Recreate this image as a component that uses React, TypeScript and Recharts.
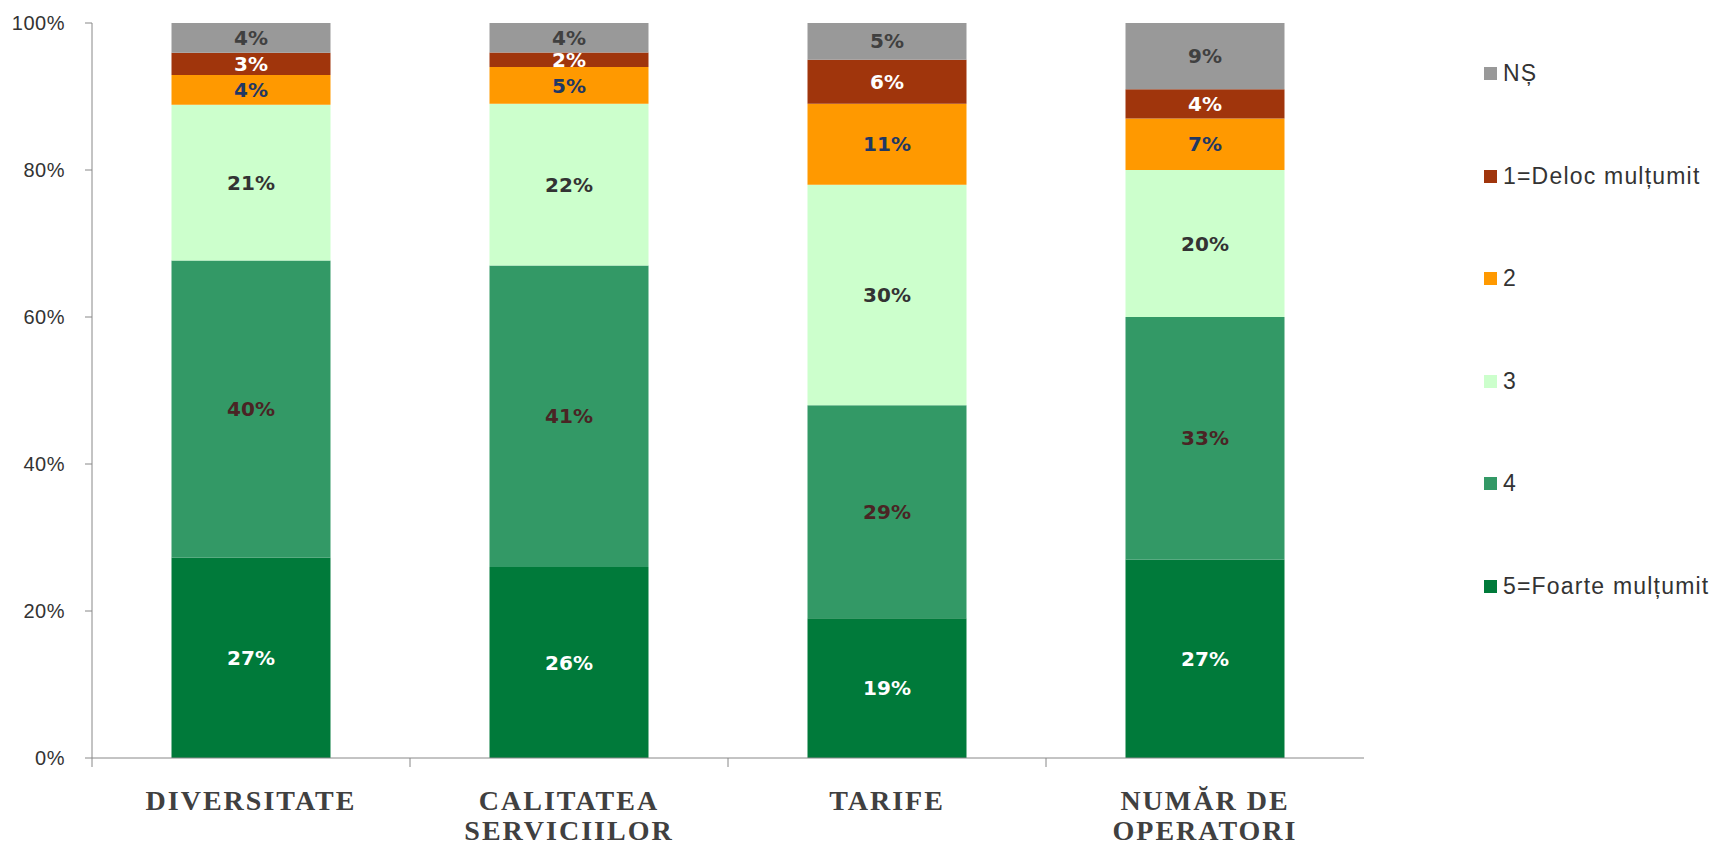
import React from "react";
import {
  BarChart,
  Bar,
  XAxis,
  YAxis,
  Legend,
  LabelList,
} from "recharts";

const categories = [
  "DIVERSITATE",
  "CALITATEA SERVICIILOR",
  "TARIFE",
  "NUMĂR DE OPERATORI",
];

// valori in procente, pe categorie
const foarteMultumit = [27, 26, 19, 27];
const nota4 = [40, 41, 29, 33];
const nota3 = [21, 22, 30, 20];
const nota2 = [4, 5, 11, 7];
const delocMultumit = [3, 2, 6, 4];
const ns = [4, 4, 5, 9];

const yTicks = [0, 0.2, 0.4, 0.6, 0.8, 1];

const series = [
  { key: "s5", name: "5=Foarte mulțumit", values: foarteMultumit, color: "#007a3a", label: "#ffffff" },
  { key: "s4", name: "4", values: nota4, color: "#339966", label: "#4a2424" },
  { key: "s3", name: "3", values: nota3, color: "#ccffcc", label: "#333333" },
  { key: "s2", name: "2", values: nota2, color: "#ff9900", label: "#1f3864" },
  { key: "s1", name: "1=Deloc mulțumit", values: delocMultumit, color: "#a0350c", label: "#ffffff" },
  { key: "sns", name: "NȘ", values: ns, color: "#999999", label: "#404040" },
];

const data = categories.map((name, i) => {
  const row: any = { name };
  series.forEach((s) => {
    row[s.key] = s.values[i];
  });
  return row;
});

const CHART_W = 1718;
const CHART_H = 845;
const MARGIN = { top: 23, right: 354, bottom: 0, left: 0 };
const Y_W = 92;
const BAND = (CHART_W - MARGIN.right - Y_W) / categories.length;

// eticheta pe axa X: ultimul cuvant pe randul doi + tick intre categorii
const CategoryTick = ({ x, y, payload, index }: any) => {
  const words = (payload.value as string).split(" ");
  const lines =
    words.length > 1
      ? [words.slice(0, -1).join(" "), words[words.length - 1]]
      : [words[0]];
  return (
    <g>
      {index < categories.length - 1 && (
        <line
          x1={x + BAND / 2}
          x2={x + BAND / 2}
          y1={y}
          y2={y + 9}
          stroke="#888"
        />
      )}
      {index === 0 && (
        <line x1={x - BAND / 2} x2={x - BAND / 2} y1={y} y2={y + 9} stroke="#888" />
      )}
      {lines.map((t, i) => (
        <text
          key={i}
          x={x}
          y={y + 52 + i * 30}
          textAnchor="middle"
          fill="#404040"
          fontFamily="'Liberation Serif', serif"
          fontWeight="bold"
          fontSize={28}
          letterSpacing={2}
        >
          {t}
        </text>
      ))}
    </g>
  );
};

// legenda: de sus in jos NȘ ... 5=Foarte multumit
const renderLegend = () => {
  const items = [...series].reverse();
  return (
    <div>
      {items.map((item) => (
        <div
          key={item.key}
          style={{
            height: 102.6,
            display: "flex",
            alignItems: "flex-start",
          }}
        >
          <span
            style={{
              width: 13,
              height: 13,
              marginTop: 6,
              background: item.color,
              display: "inline-block",
            }}
          />
          <span
            style={{
              marginLeft: 6,
              fontFamily: "'Liberation Sans', Arial, sans-serif",
              fontSize: 23,
              letterSpacing: 1.2,
              color: "#333",
              lineHeight: "24px",
              whiteSpace: "nowrap",
            }}
          >
            {item.name}
          </span>
        </div>
      ))}
    </div>
  );
};

export default function App() {
  return (
    <div style={{ position: "absolute", left: 0, top: 0, background: "#fff" }}>
      <BarChart
        width={CHART_W}
        height={CHART_H}
        data={data}
        margin={MARGIN}
        stackOffset="expand"
        barCategoryGap="25%"
      >
        <XAxis
          dataKey="name"
          interval={0}
          height={87}
          tickLine={false}
          tickSize={0}
          tickMargin={0}
          axisLine={{ stroke: "#888" }}
          tick={<CategoryTick />}
        />
        <YAxis
          width={Y_W}
          domain={[0, 1]}
          ticks={yTicks}
          tickFormatter={(v: number) => `${Math.round(v * 100)}%`}
          axisLine={{ stroke: "#888" }}
          tickLine={{ stroke: "#888" }}
          tickSize={7}
          tickMargin={20}
          tick={{
            fontSize: 20,
            fill: "#333",
            fontFamily: "'Liberation Sans', Arial, sans-serif",
            letterSpacing: 0.5,
          }}
        />
        <Legend
          layout="vertical"
          verticalAlign="middle"
          align="center"
          content={renderLegend}
          wrapperStyle={{ position: "absolute", left: 1484, top: 61, width: 234 }}
        />
        {series.map((s) => (
          <Bar
            key={s.key}
            dataKey={s.key}
            name={s.name}
            stackId="a"
            fill={s.color}
            isAnimationActive={false}
          >
            <LabelList
              dataKey={s.key}
              position="center"
              formatter={(v: any) => `${v}%`}
              fill={s.label}
              fontSize={20}
              fontWeight="bold"
              fontFamily="'DejaVu Sans', Verdana, sans-serif"
            />
          </Bar>
        ))}
      </BarChart>
    </div>
  );
}
